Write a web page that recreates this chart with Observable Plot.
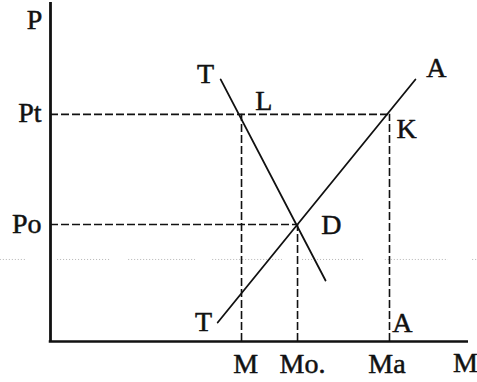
<!DOCTYPE html>
<html>
<head>
<meta charset="utf-8">
<script src="https://cdn.jsdelivr.net/npm/d3@7"></script>
<script src="https://cdn.jsdelivr.net/npm/@observablehq/plot@0.6"></script>
<style>
  html, body { margin: 0; padding: 0; background: #fff; }
  #chart svg { display: block; }
</style>
</head>
<body>
<div id="chart"></div>
<script>
// Key quantities (arbitrary units, M on x, P on y)
const M = 4.57, Mo = 5.91, Ma = 8.11;
const Pt = 6.70, Po = 3.45;

// Curve T (downward) and curve A (upward)
const curveT = [{x: 4.07, y: 7.73}, {x: 6.58, y: 1.80}];
const curveA = [{x: 4.00, y: 0.56}, {x: 8.73, y: 7.73}];

// Dashed guides
const hGuides = [{y: Pt, x2: Ma}, {y: Po, x2: Mo}];
const vGuides = [{x: M, y2: Pt}, {x: Mo, y2: Po}, {x: Ma, y2: Pt}];

// Faint dotted scan line
const dottedY = 2.42;
const dottedSegs = [[-1.20, -0.60], [0.17, 1.46], [1.87, 3.47], [3.88, 5.55], [6.03, 7.49], [8.01, 9.52], [10.10, 10.22]];

// Point labels
const pointLabels = [
  {text: "T", x: 3.71, y: 7.64},
  {text: "L", x: 5.10, y: 6.84},
  {text: "A", x: 9.23, y: 7.79},
  {text: "K", x: 8.52, y: 5.99},
  {text: "D", x: 6.72, y: 3.16},
  {text: "T", x: 3.66, y: 0.32},
  {text: "A", x: 8.42, y: 0.29}
];

// Y tick labels
const yTicks = [{text: "Pt", y: Pt}, {text: "Po", y: Po}];
// X tick labels
const xTicks = [{text: "M", x: 4.67}, {text: "Mo.", x: 6.03}, {text: "Ma", x: 8.05}];
// Axis titles
const axisTitles = [{text: "P", x: -0.38, y: 9.23}, {text: "M", x: 9.93, y: -0.91}];

const font = "'Liberation Serif', 'Times New Roman', serif";
const fs = 28;
const ink = "#111";
const txt = {fontSize: fs, fontFamily: font, fill: ink, stroke: ink, strokeWidth: 0.5, lineAnchor: "bottom"};

const chart = Plot.plot({
  width: 477,
  height: 382,
  marginLeft: 50,
  marginRight: 9,
  marginTop: 2,
  marginBottom: 41,
  style: {background: "#fff", fontFamily: font},
  x: {domain: [0, 10], axis: null},
  y: {domain: [0, 10], axis: null},
  marks: [
    Plot.ruleY(dottedSegs, {y: () => dottedY, x1: d => d[0], x2: d => d[1], stroke: "#b5b5b5", strokeWidth: 1, strokeDasharray: "1,2"}),
    Plot.ruleY(hGuides, {y: "y", x1: 0, x2: "x2", stroke: ink, strokeWidth: 1.6, strokeDasharray: "8,3"}),
    Plot.ruleX(vGuides, {x: "x", y1: 0, y2: "y2", stroke: ink, strokeWidth: 1.6, strokeDasharray: "8,3"}),
    Plot.line(curveT, {x: "x", y: "y", stroke: ink, strokeWidth: 1.8}),
    Plot.line(curveA, {x: "x", y: "y", stroke: ink, strokeWidth: 1.8}),
    Plot.ruleX([0], {y1: 0, y2: 10, stroke: ink, strokeWidth: 2.8}),
    Plot.ruleY([0], {x1: -0.03, x2: 10, stroke: ink, strokeWidth: 2.6}),
    Plot.text(pointLabels, {x: "x", y: "y", text: "text", ...txt}),
    Plot.text(yTicks, {x: () => 0, y: "y", text: "text", ...txt, textAnchor: "end", dx: -9, dy: 8}),
    Plot.text(xTicks, {x: "x", y: () => 0, text: "text", ...txt, dy: 31}),
    Plot.text(axisTitles, {x: "x", y: "y", text: "text", ...txt})
  ]
});
document.getElementById("chart").appendChild(chart);
</script>
</body>
</html>
